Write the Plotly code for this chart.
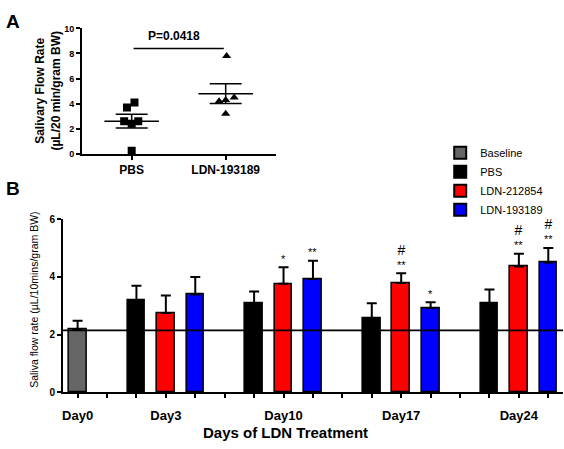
import numpy as np
import plotly.graph_objects as go

# ---------------- Panel A data ----------------
groupsA = ["PBS", "LDN-193189"]
pbs_vals = [4.1, 3.7, 2.6, 2.4, 2.6, 0.25]
pbs_jitter = [0.03, -0.05, -0.08, 0.0, 0.07, 0.0]
ldn_vals = [7.8, 4.2, 4.3, 4.5, 3.2]
ldn_jitter = [0.01, -0.07, 0.0, 0.09, 0.0]
p_text = "P=0.0418"
p_y = 8.4

# ---------------- Panel B data ----------------
days = ["Day0", "Day3", "Day10", "Day17", "Day24"]
baseline_mean = [2.18]
baseline_err = [0.30]
pbs_mean = [3.19, 3.09, 2.58, 3.09]
pbs_err = [0.50, 0.40, 0.51, 0.47]
l212_mean = [2.75, 3.76, 3.79, 4.36]
l212_err = [0.61, 0.57, 0.34, 0.44]
l193_mean = [3.39, 3.93, 2.92, 4.50]
l193_err = [0.61, 0.63, 0.20, 0.50]
l212_sig = ["", "*", "#<br>**", "#<br>**"]
l193_sig = ["", "**", "*", "#<br>**"]
baseline_level = 2.15

FONT = "Arial, Liberation Sans, sans-serif"
W, H = 564, 449

def px_x(p):
    return p / W

def px_y(p):
    return 1 - p / H

fig = go.Figure()

# ---- Panel A traces ----
for i, (vals, jit, sym) in enumerate([(pbs_vals, pbs_jitter, "square"),
                                     (ldn_vals, ldn_jitter, "triangle-up")]):
    xs = [i + j for j in jit]
    fig.add_trace(go.Scatter(x=xs, y=vals, mode="markers", xaxis="x", yaxis="y",
                             marker=dict(symbol=sym, size=8, color="black"),
                             showlegend=False, hoverinfo="skip"))
    m = float(np.mean(vals))
    sem = float(np.std(vals, ddof=1) / np.sqrt(len(vals)))
    line = dict(color="black", width=1.5)
    fig.add_trace(go.Scatter(x=[i - 0.29, i + 0.29], y=[m, m], mode="lines",
                             xaxis="x", yaxis="y", line=line, showlegend=False, hoverinfo="skip"))
    for yv in (m - sem, m + sem):
        fig.add_trace(go.Scatter(x=[i - 0.17, i + 0.17], y=[yv, yv], mode="lines",
                                 xaxis="x", yaxis="y", line=line, showlegend=False, hoverinfo="skip"))
    fig.add_trace(go.Scatter(x=[i, i], y=[m - sem, m + sem], mode="lines",
                             xaxis="x", yaxis="y", line=line, showlegend=False, hoverinfo="skip"))

# P-value bracket
fig.add_trace(go.Scatter(x=[0.02, 0.98], y=[p_y, p_y], mode="lines", xaxis="x", yaxis="y",
                         line=dict(color="black", width=1.3), showlegend=False, hoverinfo="skip"))

# ---- Panel B traces ----
BW = 0.6
def add_bar(name, xs, ys, errs, color):
    fig.add_trace(go.Bar(x=xs, y=ys, name=name, xaxis="x2", yaxis="y2", width=BW,
                         marker=dict(color=color, line=dict(color="black", width=1.5)),
                         error_y=dict(type="data", array=errs, arrayminus=[0] * len(errs),
                                      symmetric=False, color="black", thickness=2, width=5),
                         hoverinfo="skip"))

grp_start = [2 + 4 * g for g in range(len(days) - 1)]
add_bar("Baseline", [0], baseline_mean, baseline_err, "#666666")
add_bar("PBS", grp_start, pbs_mean, pbs_err, "black")
add_bar("LDN-212854", [s + 1 for s in grp_start], l212_mean, l212_err, "#ff0000")
add_bar("LDN-193189", [s + 2 for s in grp_start], l193_mean, l193_err, "#0000ff")

def ann(text, x, y, size, bold=False, angle=0, xref="paper", yref="paper",
        xanchor="center", yanchor="middle"):
    return dict(text=("<b>%s</b>" % text) if bold else text, x=x, y=y, xref=xref, yref=yref,
                textangle=angle, showarrow=False, xanchor=xanchor, yanchor=yanchor,
                font=dict(size=size, family=FONT, color="black"))

annotations = [
    ann("A", px_x(3), px_y(3), 19, bold=True, xanchor="left", yanchor="top"),
    ann("B", px_x(3), px_y(175), 19, bold=True, xanchor="left", yanchor="top"),
    ann("Salivary Flow Rate<br>(µL/20 min/gram BW)", px_x(47), px_y(87), 12, bold=True, angle=-90),
    ann(p_text, 0.45, p_y + 0.3, 12, bold=True, xref="x", yref="y", yanchor="bottom"),
    ann("Saliva flow rate (µL/10mins/gram BW)", px_x(33), px_y(302), 10.5, angle=-90),
    ann("Days of LDN Treatment", px_x(285), px_y(438), 15, bold=True),
]
for xs, means, errs, sig in [([s + 1 for s in grp_start], l212_mean, l212_err, l212_sig),
                             ([s + 2 for s in grp_start], l193_mean, l193_err, l193_sig)]:
    for x, m, e, s in zip(xs, means, errs, sig):
        if s:
            s = s.replace("#", "<span style='font-size:14px'>#</span>")
            annotations.append(ann(s, x, m + e + 0.02, 11, xref="x2", yref="y2",
                                   yanchor="bottom"))

tickvalsB = list(range(0, 17))
label_pos = [0] + [s + 1 for s in grp_start]
ticktextB = ["" for _ in tickvalsB]
for pos, d in zip(label_pos, days):
    ticktextB[pos] = "<b>" + d + "</b>"

axis_common = dict(showgrid=False, zeroline=False, showline=True, linecolor="black",
                   linewidth=1.5, ticks="outside", tickcolor="black", tickwidth=1.5,
                   ticklen=4)

fig.update_layout(
    width=W, height=H, margin=dict(l=0, r=0, t=0, b=0),
    plot_bgcolor="white", paper_bgcolor="white",
    font=dict(family=FONT, color="black"),
    bargap=0, barmode="overlay",
    xaxis=dict(domain=[px_x(81), px_x(275)], range=[-0.53, 1.53], anchor="y",
               tickvals=[0, 1], ticktext=["<b>" + g + "</b>" for g in groupsA],
               tickfont=dict(size=12, family=FONT), **axis_common),
    yaxis=dict(domain=[px_y(152), px_y(23)], range=[0, 10], anchor="x",
               tickvals=[0, 2, 4, 6, 8, 10], ticktext=["<b>%d</b>" % v for v in [0, 2, 4, 6, 8, 10]],
               tickfont=dict(size=9, family=FONT), **axis_common),
    xaxis2=dict(domain=[px_x(62), px_x(563)], range=[-0.5, 16.5], anchor="y2",
                tickvals=tickvalsB, ticktext=ticktextB, ticklabelstandoff=6,
                tickfont=dict(size=13, family=FONT), **axis_common),
    yaxis2=dict(domain=[px_y(397), px_y(219)], range=[0, 6], anchor="x2",
                tickvals=[0, 2, 4, 6], ticktext=["<b>%d</b>" % v for v in [0, 2, 4, 6]],
                tickfont=dict(size=10, family=FONT), **axis_common),
    legend=dict(x=px_x(440), y=px_y(136), xanchor="left", yanchor="top",
                font=dict(size=11, family=FONT), bgcolor="rgba(0,0,0,0)",
                tracegroupgap=0, itemsizing="constant"),
    annotations=annotations,
    shapes=[dict(type="line", xref="x2 domain", yref="y2", x0=0, x1=1,
                 y0=baseline_level, y1=baseline_level, line=dict(color="black", width=1.8))],
)

fig.write_html("out.html", config={"displayModeBar": False},
               post_script="document.body.style.margin='0';document.body.style.overflow='hidden';")
